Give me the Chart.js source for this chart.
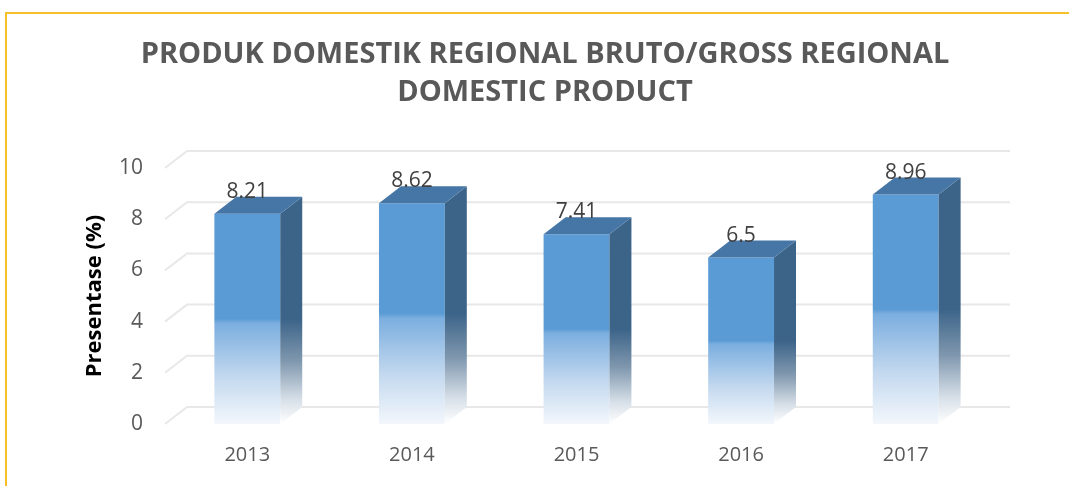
<!DOCTYPE html>
<html><head><meta charset="utf-8">
<script src="https://cdn.jsdelivr.net/npm/chart.js@4.4.0/dist/chart.umd.min.js"></script>
<style>
html,body{margin:0;padding:0;background:#fff;}
#wrap{position:relative;width:1069px;height:486px;overflow:hidden;}
#frame{position:absolute;left:5px;top:12px;width:1100px;height:520px;border-top:2px solid #F6C02A;border-left:2px solid #F6C02A;}
canvas{position:absolute;left:0;top:0;}
</style></head><body>
<div id="wrap"><div id="frame"></div><canvas id="c" width="1069" height="486"></canvas></div>
<script>
const titleLines=['PRODUK DOMESTIK REGIONAL BRUTO/GROSS REGIONAL','DOMESTIC PRODUCT'];
const years=['2013','2014','2015','2016','2017'];
const values=[8.21,8.62,7.41,6.5,8.96];
const valueLabels=['8.21','8.62','7.41','6.5','8.96'];
const yTicks=[0,2,4,6,8,10];
const DX=22, DY=-17; // depth of the 3d look

Chart.defaults.font.family='"Open Sans", sans-serif';

const frontFill=c=>{
  const ch=c.chart; if(!ch.chartArea) return '#5B9BD5';
  const y=ch.scales.y, y0=y.getPixelForValue(0), y1=y.getPixelForValue(values[c.dataIndex]);
  const g=ch.ctx.createLinearGradient(0,y0,0,y1);
  g.addColorStop(0,'#F3F7FC');g.addColorStop(0.22,'#C4D9EF');g.addColorStop(0.48,'#7BAEDF');
  g.addColorStop(0.5,'#5B9BD5');g.addColorStop(1,'#5B9BD5');
  return g;
};

// title drawn by hand so it can sit centred on the whole picture, not the chart box
const bigTitle={id:'bigTitle',afterDraw(ch){
  const ctx=ch.ctx;
  ctx.save();ctx.fillStyle='#595959';ctx.font='bold 29px "Open Sans"';ctx.textAlign='center';ctx.textBaseline='middle';
  titleLines.forEach((t,i)=>ctx.fillText(t,545,55+i*38));
  ctx.restore();
}};

const backGrid={id:'backGrid',beforeDatasetsDraw(ch){
  const {ctx,chartArea:a,scales:{y}}=ch;
  ctx.save();ctx.strokeStyle='#E8E8E8';ctx.lineWidth=2;
  yTicks.forEach(v=>{const py=y.getPixelForValue(v);
    ctx.beginPath();ctx.moveTo(a.left,py);ctx.lineTo(a.left+DX,py+DY);ctx.lineTo(a.right+DX,py+DY);ctx.stroke();});
  ctx.restore();
}};

const cube={id:'cube',afterDatasetsDraw(ch){
  const ctx=ch.ctx, meta=ch.getDatasetMeta(0);
  ctx.save();
  meta.data.forEach((b,i)=>{
    const l=b.x-b.width/2, r=b.x+b.width/2, t=b.y, bs=b.base;
    const g=ctx.createLinearGradient(0,bs,0,t);
    g.addColorStop(0,'rgba(255,255,255,1)');g.addColorStop(0.12,'#D5DEE7');g.addColorStop(0.3,'#7F97AE');
    g.addColorStop(0.5,'#3C6489');g.addColorStop(1,'#3C6489');
    ctx.fillStyle=g;ctx.beginPath();ctx.moveTo(r,t);ctx.lineTo(r+DX,t+DY);ctx.lineTo(r+DX,bs+DY);ctx.lineTo(r,bs);ctx.closePath();ctx.fill();
    ctx.fillStyle='#4676A6';ctx.beginPath();ctx.moveTo(l,t);ctx.lineTo(l+DX,t+DY);ctx.lineTo(r+DX,t+DY);ctx.lineTo(r,t);ctx.closePath();ctx.fill();
    ctx.fillStyle='#404040';ctx.font='21px "Open Sans"';ctx.textAlign='center';ctx.textBaseline='middle';
    ctx.fillText(valueLabels[i],b.x,t-22);
  });
  ctx.restore();
}};

new Chart(document.getElementById('c'),{
  type:'bar',
  data:{labels:years,datasets:[{data:values,backgroundColor:frontFill,borderWidth:0,barPercentage:0.4,categoryPercentage:1}]},
  options:{responsive:false,animation:false,
    layout:{padding:{left:10,right:81,top:168,bottom:0}},
    plugins:{legend:{display:false},tooltip:{enabled:false},title:{display:false}},
    scales:{
      x:{grid:{display:false,drawTicks:false},border:{display:false},
        ticks:{color:'#595959',font:{size:20},padding:19},afterFit:s=>{s.height=62;}},
      y:{min:0,max:10,grid:{display:false,drawTicks:false},border:{display:false},
        afterBuildTicks:s=>{s.ticks=yTicks.map(v=>({value:v}));},
        ticks:{color:'#595959',font:{size:21},padding:22},
        title:{display:true,text:'Presentase (%)',color:'#000',font:{size:22,weight:'bold',lineHeight:1.2},padding:{top:72,bottom:0}},
        afterFit:s=>{s.width=155;}}
    }},
  plugins:[backGrid,cube,bigTitle]
});
</script>
</body></html>
